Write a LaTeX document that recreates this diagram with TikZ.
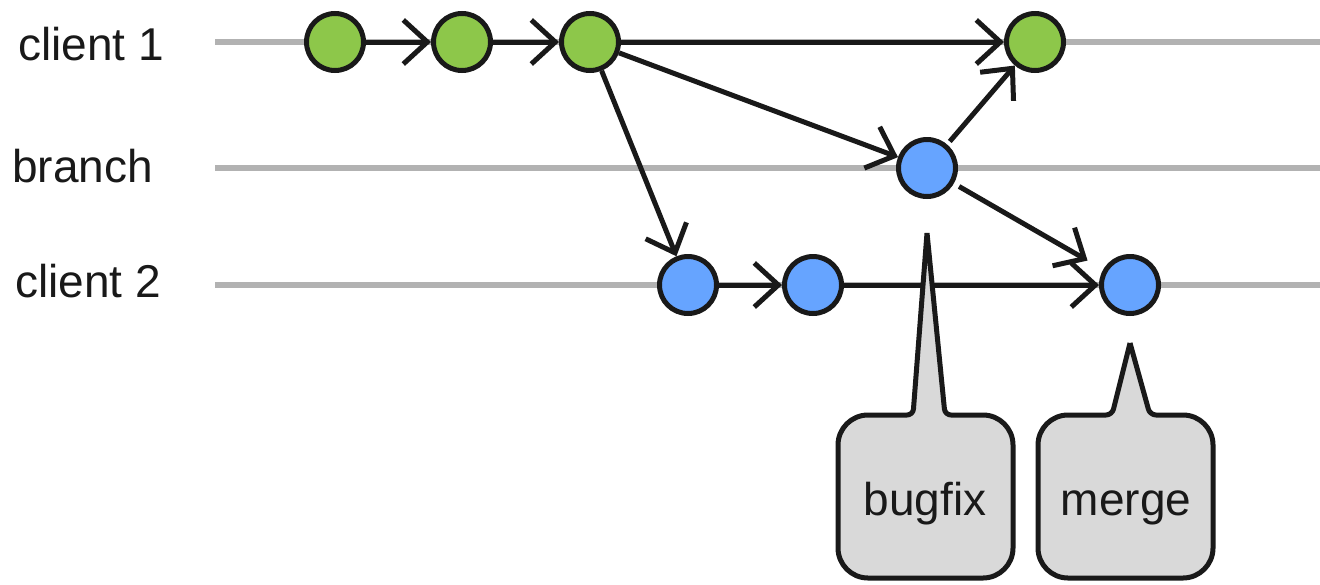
\documentclass[tikz,border=0pt]{standalone}
\usepackage{fontspec}
\setmainfont{Liberation Sans}
\usetikzlibrary{arrows.meta}
\definecolor{commitgreen}{RGB}{141,199,74}
\definecolor{commitblue}{RGB}{102,164,255}
\definecolor{notegray}{RGB}{217,217,217}
\definecolor{inkblack}{RGB}{25,25,25}
\begin{document}
\begin{tikzpicture}[x=0.5pt,y=-0.5pt]
          \tikzstyle{commit}=[draw=inkblack,shape=circle,line width=2.5pt,minimum size=28.5pt,inner sep=0pt];
          \tikzstyle{lane}=[draw=black!30,line width=3pt];
          \tikzstyle{link}=[draw=inkblack,line width=2.5pt,-{Straight Barb[length=12pt,width=22pt]}];
          \tikzstyle{note}=[draw=inkblack,fill=notegray,line width=2.5pt,line join=round];
          \useasboundingbox (0,0) rectangle (1320,584);
          %lanes
          \node (lbl1) at (18,60) [anchor=base west,inner sep=0pt,text=inkblack,font=\fontsize{23}{26}\selectfont] {client 1};
          \node (lbl2) at (12,182) [anchor=base west,inner sep=0pt,text=inkblack,font=\fontsize{23}{26}\selectfont] {branch};
          \node (lbl3) at (15,297) [anchor=base west,inner sep=0pt,text=inkblack,font=\fontsize{23}{26}\selectfont] {client 2};
          \draw[lane] (215,42)--(1320,42);
          \draw[lane] (215,168)--(1320,168);
          \draw[lane] (215,285)--(1320,285);
          %commits
          \node (c1a) at (335,42) [commit,fill=commitgreen] {};
          \node (c1b) at (462,42) [commit,fill=commitgreen] {};
          \node (c1c) at (590,42) [commit,fill=commitgreen] {};
          \node (c1d) at (1035,42) [commit,fill=commitgreen] {};
          \node (br) at (927,168) [commit,fill=commitblue] {};
          \node (c2a) at (688,285) [commit,fill=commitblue] {};
          \node (c2b) at (813,285) [commit,fill=commitblue] {};
          \node (c2c) at (1130,285) [commit,fill=commitblue] {};
          %history
          \draw[link] (c1a)--(c1b);
          \draw[link] (c1b)--(c1c);
          \draw[link] (c1c)--(c1d);
          \draw[link] (c1c)--(br);
          \draw[link] (c1c)--(c2a);
          \draw[link,shorten <=2pt] (br)--(c1d);
          \draw[link,shorten <=3pt,shorten >=9pt] (br)--(c2c);
          \draw[link] (c2a)--(c2b);
          \draw[link] (c2b)--(c2c);
          %notes
          \coordinate (bugfixtip) at ([yshift=-17pt]br.south);
          \coordinate (mergetip) at ([yshift=-13.5pt]c2c.south);
          \draw[note] (bugfixtip) [rounded corners=3pt] -- (945,415) [rounded corners=15pt] -- (1013,415) -- (1013,578) -- (838,578) -- (838,415) [rounded corners=3pt] -- (913,415) [sharp corners] -- (bugfixtip);
          \draw[note] (mergetip) [rounded corners=3pt] -- (1150,415) [rounded corners=15pt] -- (1213,415) -- (1213,578) -- (1038,578) -- (1038,415) [rounded corners=3pt] -- (1112,415) [sharp corners] -- (mergetip);
          \node (bugfix) at (925,515) [anchor=base,text=inkblack,font=\fontsize{23}{26}\selectfont] {bugfix};
          \node (merge) at (1126,515) [anchor=base,text=inkblack,font=\fontsize{23}{26}\selectfont] {merge};
      \end{tikzpicture}
\end{document}
